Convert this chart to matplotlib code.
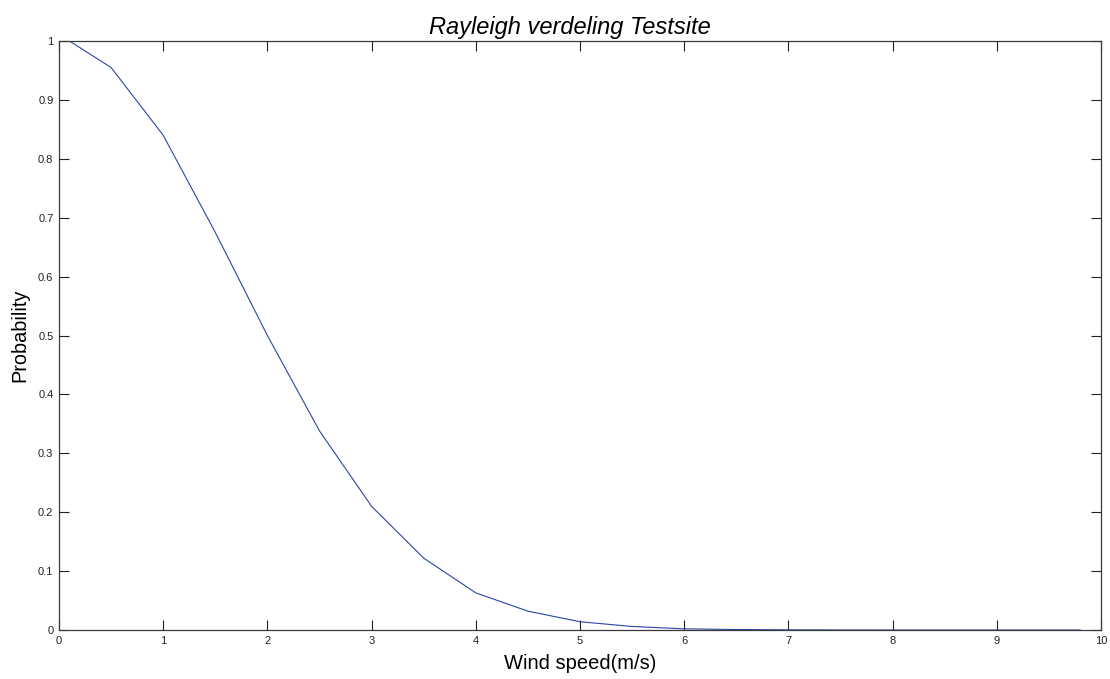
import matplotlib
matplotlib.use("Agg")
import matplotlib.pyplot as plt

wind_speed = [0.1, 0.5, 1.0, 1.5, 2.0, 2.5, 3.0, 3.5, 4.0, 4.5, 5.0, 5.5, 6.0, 6.5,
              7.0, 7.5, 8.0, 8.5, 9.0, 9.5, 9.8]
probability = [1.0, 0.955, 0.840, 0.675, 0.500, 0.338, 0.210, 0.122, 0.063, 0.032,
               0.014, 0.006, 0.002, 0.0008, 0.0003, 0.0001, 0.0, 0.0, 0.0, 0.0, 0.0]
x_ticks = [0, 1, 2, 3, 4, 5, 6, 7, 8, 9, 10]
y_ticks = [0, 0.1, 0.2, 0.3, 0.4, 0.5, 0.6, 0.7, 0.8, 0.9, 1]
y_tick_labels = ["0", "0.1", "0.2", "0.3", "0.4", "0.5", "0.6", "0.7", "0.8", "0.9", "1"]

plt.rcParams['font.family'] = ['Liberation Sans', 'DejaVu Sans']

fig = plt.figure(figsize=(11.10, 6.79), dpi=100)
ax = fig.add_axes([59/1110, 49/679, 1042/1110, 589/679])
ax.plot(wind_speed, probability, color='#2b45a8', linewidth=0.8)
ax.set_xlim(0, 10)
ax.set_ylim(0, 1)
ax.set_xticks(x_ticks)
ax.set_xticklabels([str(t) for t in x_ticks])
ax.set_yticks(y_ticks)
ax.set_yticklabels(y_tick_labels)
ax.tick_params(direction='in', length=7.5, width=0.8, top=True, right=True,
               labelsize=8, colors='#222222', pad=4)
for s in ax.spines.values():
    s.set_color('#3a3a3a')
    s.set_linewidth(0.9)
ax.set_title('Rayleigh verdeling Testsite', fontsize=17, style='italic', pad=5, x=0.49)
ax.set_xlabel('Wind speed(m/s)', fontsize=14.5, labelpad=6)
ax.set_ylabel('Probability', fontsize=14.3, labelpad=6)
fig.savefig('out.png', dpi=100, facecolor='white')
